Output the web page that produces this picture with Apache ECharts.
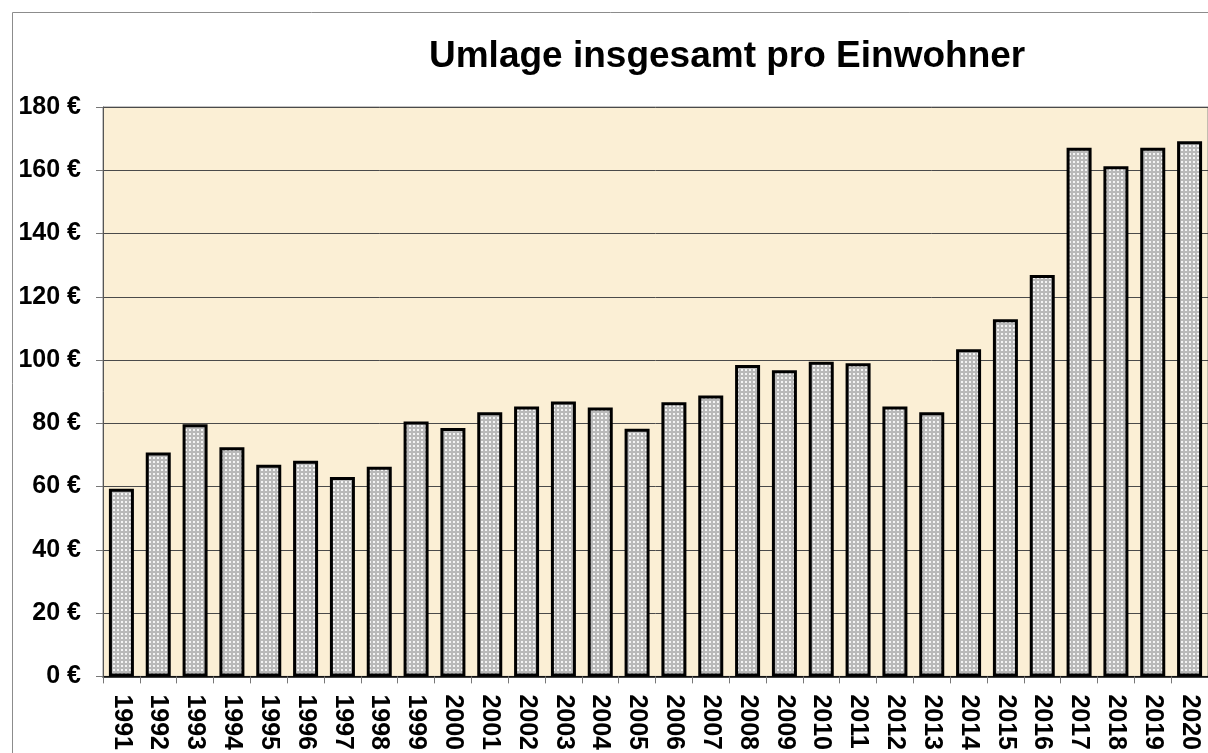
<!DOCTYPE html>
<html>
<head>
<meta charset="utf-8">
<script src="https://cdn.jsdelivr.net/npm/echarts@6/dist/echarts.min.js"></script>
<style>
  html, body { margin: 0; padding: 0; background: #fff; }
  #chart { width: 1208px; height: 753px; }
</style>
</head>
<body>
<div id="chart"></div>
<script>
const years = ['1991','1992','1993','1994','1995','1996','1997','1998','1999','2000',
               '2001','2002','2003','2004','2005','2006','2007','2008','2009','2010',
               '2011','2012','2013','2014','2015','2016','2017','2018','2019','2020'];
const umlage = [59.3, 70.8, 79.7, 72.4, 66.9, 68.2, 63.0, 66.3, 80.6, 78.5,
                83.5, 85.3, 86.9, 85.0, 78.3, 86.7, 88.8, 98.4, 96.8, 99.5,
                99.0, 85.3, 83.5, 103.4, 112.9, 126.9, 167.1, 161.3, 167.1, 169.2];
const yTicks = { min: 0, max: 180, interval: 20 };

// dotted grey fill like the old office pattern
function dotPattern() {
    const c = document.createElement('canvas');
    c.width = 4; c.height = 4;
    const ctx = c.getContext('2d');
    ctx.fillStyle = '#b9b9b9';
    ctx.fillRect(0, 0, 4, 4);
    ctx.fillStyle = '#f4f4f4';
    ctx.fillRect(1, 1, 2, 2);
    return c;
}

const chart = echarts.init(document.getElementById('chart'), null, { renderer: 'canvas' });

const labelFont = { color: '#000', fontWeight: 'bold', fontSize: 25, fontFamily: 'Liberation Sans, Arial, sans-serif' };

chart.setOption({
    backgroundColor: '#fff',
    animation: false,
    title: {
        text: 'Umlage insgesamt pro Einwohner',
        left: 424,
        top: 33,
        textStyle: { color: '#000', fontWeight: 'bold', fontSize: 37, fontFamily: 'Liberation Sans, Arial, sans-serif' }
    },
    graphic: [{
        type: 'rect',
        left: 10, top: 10, z: -1,
        shape: { width: 1300, height: 800 },
        style: { fill: 'none', stroke: '#8c8c8c', lineWidth: 1 }
    }],
    grid: {
        left: 103, top: 107, width: 1118, height: 572,
        show: true,
        backgroundColor: '#fbefd5',
        borderColor: '#8a8a8a',
        borderWidth: 1
    },
    xAxis: {
        type: 'category',
        data: years,
        axisLine: { lineStyle: { color: '#000', width: 1.5 } },
        axisTick: { show: true, length: 7, lineStyle: { color: '#777' } },
        axisLabel: Object.assign({ rotate: -90, margin: 18, interval: 0 }, labelFont)
    },
    yAxis: {
        type: 'value',
        min: yTicks.min, max: yTicks.max, interval: yTicks.interval,
        axisLine: { show: true, lineStyle: { color: '#555', width: 1 } },
        axisTick: { show: true, length: 7, lineStyle: { color: '#777' } },
        splitLine: { lineStyle: { color: '#4a4a4a', width: 1 } },
        axisLabel: Object.assign({ margin: 22, formatter: v => v + ' €' }, labelFont)
    },
    series: [{
        type: 'bar',
        data: umlage,
        barWidth: 25,
        itemStyle: {
            color: { image: dotPattern(), repeat: 'repeat' },
            borderColor: '#000',
            borderWidth: 3
        }
    }]
});
</script>
</body>
</html>
